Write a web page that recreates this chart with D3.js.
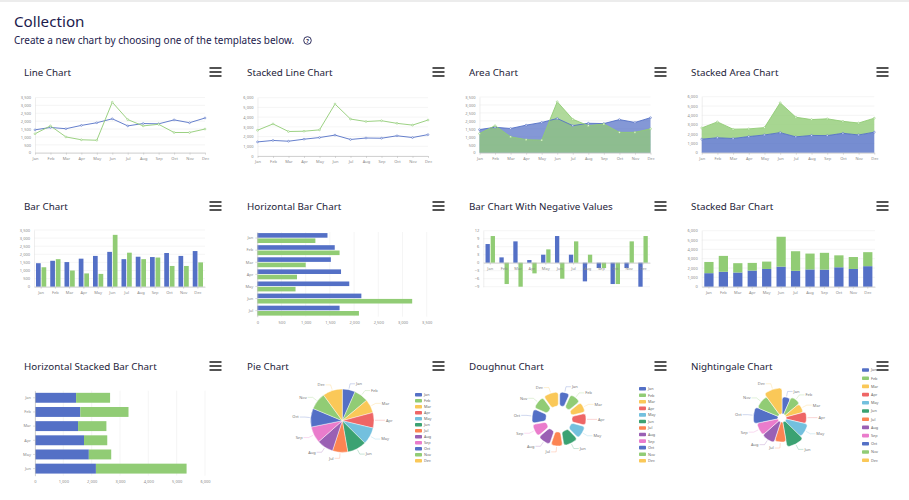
<!DOCTYPE html>
<html><head><meta charset="utf-8">
<script src="https://cdn.jsdelivr.net/npm/d3@7"></script>
<style>
body{margin:0;background:#fff;}
svg text{font-family:"Noto Sans",sans-serif;}
</style>
</head><body>
<svg id="c" width="909" height="500"></svg>
<script>
// ---------- DATA ----------
const months = ["Jan","Feb","Mar","Apr","May","Jun","Jul","Aug","Sep","Oct","Nov","Dec"];
const seriesA = [1450,1600,1520,1730,1900,2150,1700,1850,1830,2080,1900,2200];
const seriesB = [1200,1700,1000,820,790,3200,2100,1700,1800,1280,1280,1500];
const negA = [7,2,8,1,3,10,3,-7,-2,-8,-2,-9];
const negB = [10,-8,-9,-4,5,-6,8,3,-2,-8,8,10];
const pieValues = [1450,1600,1520,1730,1900,2150,1700,1850,1830,2080,1900,2200];
const roseValues = [1450,1600,1520,1730,1900,2150,1700,1850,1830,2080,1900,2200];
const hbarMonths = ["Jan","Feb","Mar","Apr","May","Jun","Jul"];
const hstackMonths = ["Jan","Feb","Mar","Apr","May","Jun"];
const ticks3500 = [0,500,1000,1500,2000,2500,3000,3500];
const ticks6000 = [0,1000,2000,3000,4000,5000,6000];
const negTicks = [-9,-6,-3,0,3,6,9,12];
const chartTitles = ["Line Chart","Stacked Line Chart","Area Chart","Stacked Area Chart",
  "Bar Chart","Horizontal Bar Chart","Bar Chart With Negative Values","Stacked Bar Chart",
  "Horizontal Stacked Bar Chart","Pie Chart","Doughnut Chart","Nightingale Chart"];
const palette = ["#5470c6","#91cc75","#fac858","#ee6666","#73c0de","#3ba272","#fc8452","#9a60b4","#ea7ccc"];

// ---------- PAGE ----------
const svg = d3.select("#c");
const navy = "#1c1b4d";
svg.append("rect").attr("x",0).attr("y",0).attr("width",909).attr("height",2).attr("fill","#ececec");
svg.append("text").attr("x",14).attr("y",27).attr("font-size",15.2).attr("fill",navy).text("Collection");
svg.append("text").attr("x",14).attr("y",44).attr("font-size",10).attr("fill",navy)
  .text("Create a new chart by choosing one of the templates below.");
svg.append("circle").attr("cx",307.5).attr("cy",40.5).attr("r",3.8).attr("fill","none").attr("stroke",navy).attr("stroke-width",0.9);
svg.append("text").attr("x",307.5).attr("y",42.6).attr("font-size",5.5).attr("text-anchor","middle").attr("fill",navy).attr("font-weight",700).text("?");

const colX = [24,247,469,691];
const rowY = [72,206,366];
chartTitles.forEach((t,i)=>{
  const cx = colX[i%4], cy = rowY[Math.floor(i/4)];
  svg.append("text").attr("x",cx).attr("y",cy+3.5).attr("font-size",9.8).attr("fill","#1e1d3a").text(t);
  const hx = cx+185.5;
  [-4,0,4].forEach(o=>svg.append("rect").attr("x",hx).attr("y",cy+o-0.8).attr("width",12).attr("height",1.6).attr("fill","#2a2a2a"));
});

const fmt = d3.format(",");
function styleAxis(g, hideDomain){
  g.selectAll("text").attr("font-size",4).attr("fill","#8a8a8a");
  g.selectAll("line").attr("stroke","#b8b8b8").attr("stroke-width",0.5);
  g.select(".domain").attr("stroke", hideDomain?"none":"#b8b8b8").attr("stroke-width",0.6);
}
function hgrid(y, ticks, b){
  svg.append("g").selectAll("line").data(ticks).join("line")
    .attr("x1",b.x0).attr("x2",b.x1).attr("y1",d=>y(d)).attr("y2",d=>y(d))
    .attr("stroke","#eeeeee").attr("stroke-width",0.6);
}
function vgrid(x, ticks, b){
  svg.append("g").selectAll("line").data(ticks).join("line")
    .attr("y1",b.y0).attr("y2",b.y1).attr("x1",d=>x(d)).attr("x2",d=>x(d))
    .attr("stroke","#eeeeee").attr("stroke-width",0.6);
}
function yAxis(y, ticks, b, f){
  svg.append("g").attr("transform",`translate(${b.x0},0)`)
    .call(d3.axisLeft(y).tickValues(ticks).tickSize(0).tickPadding(4).tickFormat(f||fmt))
    .call(g=>styleAxis(g,false)).select(".domain").attr("stroke","#e2e2e2");
}
function xCat(x, b, yPos){
  svg.append("g").attr("transform",`translate(0,${yPos===undefined?b.y1:yPos})`)
    .call(d3.axisBottom(x).tickSize(2).tickPadding(2).tickSizeOuter(0))
    .call(g=>styleAxis(g,false));
}

// ---------- LINE-TYPE CHARTS ----------
function lineChart(b, ticks, stacked, area){
  const x = d3.scalePoint().domain(months).range([b.x0,b.x1]);
  const y = d3.scaleLinear().domain([0,d3.max(ticks)]).range([b.y1,b.y0]);
  hgrid(y,ticks,b);
  yAxis(y,ticks,b);
  const top = stacked ? seriesB.map((v,i)=>v+seriesA[i]) : seriesB;
  const bA = seriesA.map((v,i)=>({m:months[i],lo:0,hi:v}));
  const bB = top.map((v,i)=>({m:months[i],lo:stacked?seriesA[i]:0,hi:v}));
  if(area){
    const ar = d3.area().x(d=>x(d.m)).y0(d=>y(d.lo)).y1(d=>y(d.hi));
    svg.append("path").datum(bA).attr("d",ar).attr("fill",palette[0]).attr("fill-opacity",stacked?0.8:0.72);
    svg.append("path").datum(bB).attr("d",ar).attr("fill",palette[1]).attr("fill-opacity",stacked?0.8:0.72);
  }
  xCat(x,b);
  const ln = d3.line().x(d=>x(d.m)).y(d=>y(d.hi));
  [[bA,palette[0]],[bB,palette[1]]].forEach(([d,c])=>{
    svg.append("path").datum(d).attr("d",ln).attr("fill","none").attr("stroke",c).attr("stroke-width",0.9);
    svg.append("g").selectAll("circle").data(d).join("circle").attr("cx",p=>x(p.m)).attr("cy",p=>y(p.hi))
      .attr("r",0.9).attr("fill","#fff").attr("stroke",c).attr("stroke-width",0.6);
  });
}
lineChart({x0:35,x1:205,y0:97.5,y1:152.7}, ticks3500, false, false);
lineChart({x0:257.5,x1:428,y0:97.7,y1:156}, ticks6000, true, false);
lineChart({x0:479.5,x1:650.5,y0:97,y1:152.7}, ticks3500, false, true);
lineChart({x0:701.7,x1:874.3,y0:96.7,y1:152.7}, ticks6000, true, true);

// ---------- VERTICAL BAR CHARTS ----------
function barChart(b, ticks, mode){
  const x = d3.scaleBand().domain(months).range([b.x0,b.x1]).paddingInner(0).paddingOuter(0);
  const y = d3.scaleLinear().domain([d3.min(ticks),d3.max(ticks)]).range([b.y1,b.y0]);
  hgrid(y,ticks,b);
  yAxis(y,ticks,b);
  const bw = x.bandwidth();
  if(mode==="stack"){
    const w = bw*0.64, off=(bw-w)/2;
    months.forEach((m,i)=>{
      svg.append("rect").attr("x",x(m)+off).attr("width",w).attr("y",y(seriesA[i])).attr("height",y(0)-y(seriesA[i])).attr("fill",palette[0]);
      svg.append("rect").attr("x",x(m)+off).attr("width",w).attr("y",y(seriesA[i]+seriesB[i])).attr("height",y(seriesA[i])-y(seriesA[i]+seriesB[i])).attr("fill",palette[1]);
    });
  } else {
    const A = mode==="neg"?negA:seriesA, B = mode==="neg"?negB:seriesB;
    const w = bw*(mode==="neg"?0.31:0.33), gap = bw*0.06, off=(bw-2*w-gap)/2;
    [[A,palette[0],0],[B,palette[1],1]].forEach(([arr,c,k])=>{
      svg.append("g").selectAll("rect").data(arr).join("rect")
        .attr("x",(d,i)=>x(months[i])+off+k*(w+gap)).attr("width",w)
        .attr("y",d=>y(Math.max(0,d))).attr("height",d=>Math.abs(y(d)-y(0))).attr("fill",c);
    });
  }
  xCat(x,b, mode==="neg"? y(0): b.y1);
}
barChart({x0:34,x1:205,y0:230,y1:286.7}, ticks3500, "group");
barChart({x0:483.3,x1:650,y0:230.7,y1:286.7}, negTicks, "neg");
barChart({x0:701.7,x1:875,y0:230.7,y1:286.7}, ticks6000, "stack");

// ---------- HORIZONTAL BAR CHARTS ----------
function hbarChart(b, cats, ticks, stacked){
  const y = d3.scaleBand().domain(cats).range([b.y0,b.y1]);
  const x = d3.scaleLinear().domain([0,d3.max(ticks)]).range([b.x0,b.x1]);
  vgrid(x,ticks,b);
  svg.append("g").attr("transform",`translate(0,${b.y1})`)
    .call(d3.axisBottom(x).tickValues(ticks).tickSize(0).tickPadding(4).tickFormat(fmt))
    .call(g=>styleAxis(g,true));
  const bh = y.bandwidth();
  if(stacked){
    const h = bh*0.7, off=(bh-h)/2;
    cats.forEach((m,i)=>{
      svg.append("rect").attr("x",x(0)).attr("y",y(m)+off).attr("height",h).attr("width",x(seriesA[i])-x(0)).attr("fill",palette[0]);
      svg.append("rect").attr("x",x(seriesA[i])).attr("y",y(m)+off).attr("height",h).attr("width",x(seriesA[i]+seriesB[i])-x(seriesA[i])).attr("fill",palette[1]);
    });
  } else {
    const h = bh*0.38, gap=bh*0.06, off=(bh-2*h-gap)/2;
    cats.forEach((m,i)=>{
      svg.append("rect").attr("x",x(0)).attr("y",y(m)+off).attr("height",h).attr("width",x(seriesA[i])-x(0)).attr("fill",palette[0]);
      svg.append("rect").attr("x",x(0)).attr("y",y(m)+off+h+gap).attr("height",h).attr("width",x(seriesB[i])-x(0)).attr("fill",palette[1]);
    });
  }
  svg.append("g").attr("transform",`translate(${b.x0},0)`)
    .call(d3.axisLeft(y).tickSize(2).tickPadding(2).tickSizeOuter(0))
    .call(g=>styleAxis(g,false));
}
hbarChart({x0:257.3,x1:426.7,y0:232,y1:316.7}, hbarMonths, ticks3500, false);
hbarChart({x0:35,x1:205,y0:390.7,y1:475.7}, hstackMonths, ticks6000, true);

// ---------- PIE-TYPE CHARTS ----------
function pieChart(cx, cy, kind, legendX, legendY0, legendStep){
  const vals = kind==="rose"?roseValues:pieValues;
  const pie = d3.pie().sort(null).value(d=>d).padAngle(kind==="donut"?0.045:0);
  const arcs = pie(vals);
  const g = svg.append("g").attr("transform",`translate(${cx},${cy})`);
  const rMax = kind==="pie"?31.7:(kind==="donut"?27:30);
  const inner = kind==="donut"?13:(kind==="rose"?4:0);
  const rs = d3.scaleLinear().domain([0,d3.max(vals)]).range([inner,rMax]);
  const rOf = (v)=> kind==="rose"? rs(v) : rMax;
  arcs.forEach((a,i)=>{
    const r = rOf(a.value);
    const arc = d3.arc().innerRadius(inner).outerRadius(r).cornerRadius(kind==="pie"?0:2.5);
    g.append("path").attr("d",arc(a)).attr("fill",palette[i%palette.length])
      .attr("stroke","#fff").attr("stroke-width",kind==="pie"?0.4:0.5);
    const mid = (a.startAngle+a.endAngle)/2;
    const sx = Math.sin(mid), sy = -Math.cos(mid);
    const p1=[sx*(r+1),sy*(r+1)], p2=[sx*(r+6),sy*(r+6)];
    const dir = sx>=0?1:-1;
    const p3=[p2[0]+dir*5,p2[1]];
    g.append("polyline").attr("points",[p1,p2,p3].map(p=>p.join(",")).join(" "))
      .attr("fill","none").attr("stroke",palette[i%palette.length]).attr("stroke-opacity",0.55).attr("stroke-width",0.5);
    g.append("text").attr("x",p3[0]+dir*1).attr("y",p3[1]+1.4).attr("font-size",4)
      .attr("text-anchor",dir>0?"start":"end").attr("fill","#777").text(months[i]);
  });
  months.forEach((m,i)=>{
    const ly = legendY0 + i*legendStep;
    svg.append("rect").attr("x",legendX).attr("y",ly-1.8).attr("width",7).attr("height",3.6).attr("rx",0.8).attr("fill",palette[i%palette.length]);
    svg.append("text").attr("x",legendX+9).attr("y",ly+1.4).attr("font-size",3.8).attr("fill","#666").text(m);
  });
}
pieChart(342.3,420.7,"pie",415,394.7,6);
pieChart(559,419,"donut",639,388.7,6.55);
pieChart(782,418,"rose",862,370,8.2);
</script>
</body></html>
